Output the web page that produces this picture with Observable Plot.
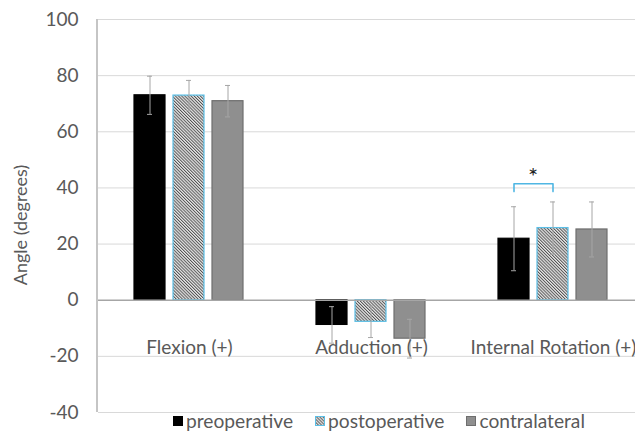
<!DOCTYPE html>
<html><head><meta charset="utf-8">
<script src="https://cdn.jsdelivr.net/npm/d3@7"></script>
<script src="https://cdn.jsdelivr.net/npm/@observablehq/plot@0.6"></script>
<style>
body{margin:0;background:#fff;overflow:hidden;width:635px;height:431px;font-family:Lato,sans-serif}
#wrap{position:relative;width:635px;height:431px}
#ylabel{position:absolute;left:20px;top:225px;transform:translate(-50%,-50%) rotate(-90deg);font-size:18px;color:#595959;white-space:nowrap}
#legend{position:absolute;left:173px;top:410px;display:flex;gap:22px;font-size:19.2px;color:#595959;line-height:22px}
.item{display:flex;align-items:center;gap:3px}
.sw{width:10px;height:10px;box-sizing:border-box}
</style></head>
<body><div id="wrap"><div id="chart"></div><div id="ylabel">Angle (degrees)</div><div id="legend"></div></div>
<script>
// ---- data ----
const categories = ["Flexion (+)", "Adduction (+)", "Internal Rotation (+)"];
const series = ["preoperative", "postoperative", "contralateral"];
const preoperative = [73.0, -8.8, 21.9];
const postoperative = [72.9, -7.7, 25.7];
const contralateral = [70.9, -13.7, 25.2];
const preoperativeSD = [6.8, 6.5, 11.4];
const postoperativeSD = [5.4, 5.6, 9.3];
const contralateralSD = [5.6, 6.9, 9.8];
const yTicks = [-40, -20, 0, 20, 40, 60, 80, 100];
// significance bracket (Internal Rotation: preoperative vs postoperative)
const bracketCategory = "Internal Rotation (+)";
const bracketSeries = ["preoperative", "preoperative", "postoperative", "postoperative"];
const bracketValues = [38.7, 41.5, 41.5, 38.7];
const starValue = 45.4;

// ---- styles ----
const fills = {preoperative: "#000000", postoperative: "url(#hatch)", contralateral: "#8f8f8f"};
const strokes = {preoperative: "#000000", postoperative: "#5bbfe6", contralateral: "#6e6e6e"};

const means = [preoperative, postoperative, contralateral];
const sds = [preoperativeSD, postoperativeSD, contralateralSD];
const rows = [];
series.forEach((s, si) => categories.forEach((c, ci) =>
  rows.push({category: c, series: s, mean: means[si][ci], sd: sds[si][ci]})));
const bracket = bracketSeries.map((s, i) => ({category: bracketCategory, series: s, value: bracketValues[i]}));

const errColor = "#a6a6a6";
const marks = [
  Plot.ruleY(yTicks.filter(v => v !== 0), {stroke: "#d9d9d9", strokeWidth: 1}),
  ...series.map(s => Plot.barY(rows.filter(d => d.series === s), {
    fx: "category", x: "series", y: "mean",
    fill: fills[s], stroke: strokes[s], strokeWidth: 1.2
  })),
  Plot.ruleY([0], {stroke: "#a6a6a6", strokeWidth: 1.5}),
  Plot.ruleX(rows, {fx: "category", x: "series", y1: d => d.mean - d.sd, y2: d => d.mean + d.sd, stroke: errColor, strokeWidth: 1}),
  Plot.tickY(rows, {fx: "category", x: "series", y: d => d.mean + d.sd, stroke: errColor, strokeWidth: 1, insetLeft: 13, insetRight: 13}),
  Plot.tickY(rows, {fx: "category", x: "series", y: d => d.mean - d.sd, stroke: errColor, strokeWidth: 1, insetLeft: 13, insetRight: 13}),
  Plot.line(bracket, {fx: "category", x: "series", y: "value", stroke: "#4fb6e3", strokeWidth: 1.6}),
  Plot.text([{category: bracketCategory, series: "preoperative", value: starValue}], {
    fx: "category", x: "series", y: "value", text: () => "*", dx: 19, dy: 5, fontSize: 24, fill: "#222"
  }),
  Plot.text(categories, {fx: d => d, text: d => d, frameAnchor: "bottom", dy: -59, fontSize: 19, fill: "#595959"})
];

const plot = Plot.plot({
  width: 635,
  height: 431,
  marginLeft: 97,
  marginRight: 0,
  marginTop: 19,
  marginBottom: 19,
  style: {fontFamily: "Lato, sans-serif", fontSize: "19px", color: "#595959", background: "#fff"},
  fx: {domain: categories, range: [97, 644.5], padding: 0, axis: null},
  x: {domain: series, paddingInner: 0.2, paddingOuter: 0.88, axis: null},
  y: {domain: [-40, 100], ticks: yTicks, tickSize: 0, tickPadding: 20, label: null, tickFormat: d => String(d)},
  marks
});
document.getElementById("chart").appendChild(plot);

// pattern definition + y axis line
const svg = d3.select(plot);
const defs = svg.insert("defs", ":first-child");
const pat = defs.append("pattern").attr("id", "hatch").attr("patternUnits", "userSpaceOnUse")
  .attr("width", 2.2).attr("height", 2.2).attr("patternTransform", "rotate(-45)");
pat.append("rect").attr("width", 2.2).attr("height", 2.2).attr("fill", "#e8e8e8");
pat.append("rect").attr("width", 0.95).attr("height", 2.2).attr("fill", "#505050");
const yScale = plot.scale("y");
svg.append("line").attr("x1", 97).attr("x2", 97)
  .attr("y1", yScale.range[0]).attr("y2", yScale.range[1])
  .attr("stroke", "#a6a6a6").attr("stroke-width", 1.3);

// legend
const legend = d3.select("#legend");
series.forEach(s => {
  const it = legend.append("div").attr("class", "item");
  const sw = it.append("svg").attr("width", 10).attr("height", 10);
  if (s === "postoperative") {
    const d2 = sw.append("defs").append("pattern").attr("id", "hatch2").attr("patternUnits", "userSpaceOnUse")
      .attr("width", 2.2).attr("height", 2.2).attr("patternTransform", "rotate(-45)");
    d2.append("rect").attr("width", 2.2).attr("height", 2.2).attr("fill", "#e8e8e8");
    d2.append("rect").attr("width", 0.95).attr("height", 2.2).attr("fill", "#555");
  }
  sw.append("rect").attr("x", 0.5).attr("y", 0.5).attr("width", 9).attr("height", 9)
    .attr("fill", s === "postoperative" ? "url(#hatch2)" : fills[s]).attr("stroke", strokes[s]).attr("stroke-width", 1);
  it.append("span").text(s);
});
</script>
</body></html>
